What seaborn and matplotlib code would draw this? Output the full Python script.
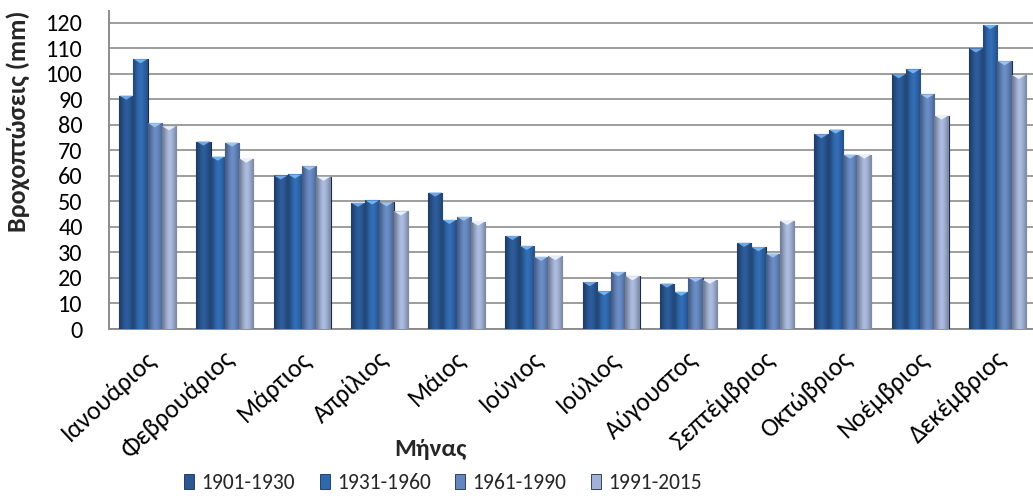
import numpy as np
import pandas as pd
import matplotlib
matplotlib.use("Agg")
import matplotlib.pyplot as plt
import matplotlib.transforms as mtransforms
import matplotlib.colors as mcolors
from matplotlib.path import Path
from matplotlib.markers import MarkerStyle
from matplotlib.patches import Patch
import seaborn as sns

months = ["Ιανουάριος", "Φεβρουάριος", "Μάρτιος", "Απρίλιος", "Μάιος", "Ιούνιος",
          "Ιούλιος", "Αύγουστος", "Σεπτέμβριος", "Οκτώβριος", "Νοέμβριος", "Δεκέμβριος"]
periods = ["1901-1930", "1931-1960", "1961-1990", "1991-2015"]

p1901_1930 = [91.5, 73.5, 60.2, 49.5, 53.5, 36.5, 18.4, 17.8, 33.8, 76.4, 99.9, 110.0]
p1931_1960 = [105.8, 67.6, 60.6, 50.4, 42.8, 32.6, 14.8, 14.6, 32.1, 78.2, 101.8, 119.2]
p1961_1990 = [80.7, 73.1, 63.8, 49.7, 44.0, 28.3, 22.3, 20.0, 29.6, 68.4, 92.0, 105.0]
p1991_2015 = [79.5, 66.8, 59.7, 46.1, 42.1, 28.6, 20.7, 19.3, 42.4, 68.4, 83.7, 99.6]

series = [p1901_1930, p1931_1960, p1961_1990, p1991_2015]
df = pd.DataFrame({
    "Μήνας": months * len(periods),
    "Περίοδος": np.repeat(periods, len(months)),
    "Βροχή": np.concatenate(series),
})

base_colors = ["#2b5894", "#3068ad", "#6586bd", "#a2b2d4"]
tip_colors = ["#6fa6e2", "#74b2ec", "#9cc2ee", "#e8f1fb"]
edge = "#1a2c4d"

sns.set_style("white")
plt.rcParams["font.family"] = ["Carlito", "DejaVu Sans"]

W, H = 1033, 498
fig = plt.figure(figsize=(W / 100, H / 100), dpi=100)
ax_l, ax_b, ax_w, ax_h = 109, 329, 927, 318   # pixel geometry of the plotting area
ax = fig.add_axes([ax_l / W, 1 - ax_b / H, ax_w / W, ax_h / H])

group_w = 0.74
sns.barplot(data=df, x="Μήνας", y="Βροχή", hue="Περίοδος", order=months,
            hue_order=periods, palette=base_colors, width=group_w, gap=0,
            edgecolor=edge, linewidth=0.8, saturation=1, legend=False,
            ax=ax, zorder=3)

ax.set_ylim(0, 124.7)
ax.set_xlim(-0.5, len(months) - 0.5)
ax.set_yticks(range(0, 121, 10))
ax.yaxis.grid(True, color="#8c8c8c", linewidth=1.2, zorder=0)
ax.set_axisbelow(True)

# horizontal shading across each column
grad = np.array([0.70, 0.86, 1.0, 1.08, 1.02, 0.92, 0.78])
for bar in ax.patches[:len(months) * len(periods)]:
    x0, y0 = bar.get_x(), bar.get_y()
    w, h = bar.get_width(), bar.get_height()
    rgb = np.array(mcolors.to_rgb(bar.get_facecolor()))
    img = np.clip(grad[:, None] * rgb[None, :], 0, 1)[None, :, :]
    im = ax.imshow(img, extent=[x0, x0 + w, y0, y0 + h], aspect="auto",
                   interpolation="bicubic", zorder=3.5)
    im.set_clip_path(bar)

# bevelled tip on top of each column
tri = MarkerStyle(Path([(-1, 0), (1, 0), (0, -0.6), (-1, 0)],
                       [Path.MOVETO, Path.LINETO, Path.LINETO, Path.CLOSEPOLY]))
bw = group_w / len(periods)
xs = np.arange(len(months))
for k, vals in enumerate(series):
    xk = xs - group_w / 2 + bw * (k + 0.5)
    ax.scatter(xk, vals, marker=tri, s=95, color=tip_colors[k],
               edgecolor="none", zorder=4, clip_on=False)

for s in ["top", "right"]:
    ax.spines[s].set_visible(False)
for s in ["left", "bottom"]:
    ax.spines[s].set_color("#8c8c8c")
    ax.spines[s].set_linewidth(1.4)

ax.tick_params(axis="y", length=0, pad=19, labelsize=17.5, labelcolor="black")
ax.tick_params(axis="x", length=0, pad=19, labelsize=18.5, labelcolor="black")
shift = mtransforms.ScaledTranslation(5 / 100, 0, fig.dpi_scale_trans)
for lab in ax.get_xticklabels():
    lab.set_rotation(43)
    lab.set_ha("right")
    lab.set_va("center")
    lab.set_rotation_mode("anchor")
    lab.set_transform(lab.get_transform() + shift)

ax.set_xlabel("Μήνας", fontsize=18, fontweight="bold")
ax.xaxis.label.set_va("center")
ax.xaxis.set_label_coords((430 - ax_l) / ax_w, (ax_b - 449) / ax_h)
ax.set_ylabel("Βροχοπτώσεις (mm)", fontsize=18.8, fontweight="bold")
ax.yaxis.label.set_va("center")
ax.yaxis.set_label_coords((18 - ax_l) / ax_w, (ax_b - 121) / ax_h)

handles = [Patch(facecolor=c, edgecolor=edge, linewidth=0.6) for c in base_colors]
fig.legend(handles, periods, loc="center", bbox_to_anchor=(443 / W, 1 - 483 / H),
           ncol=4, frameon=False, fontsize=15.5, handlelength=0.46, handleheight=0.65,
           handletextpad=0.33, columnspacing=1.15, borderaxespad=0, borderpad=0)

fig.savefig("out.png", dpi=100)
